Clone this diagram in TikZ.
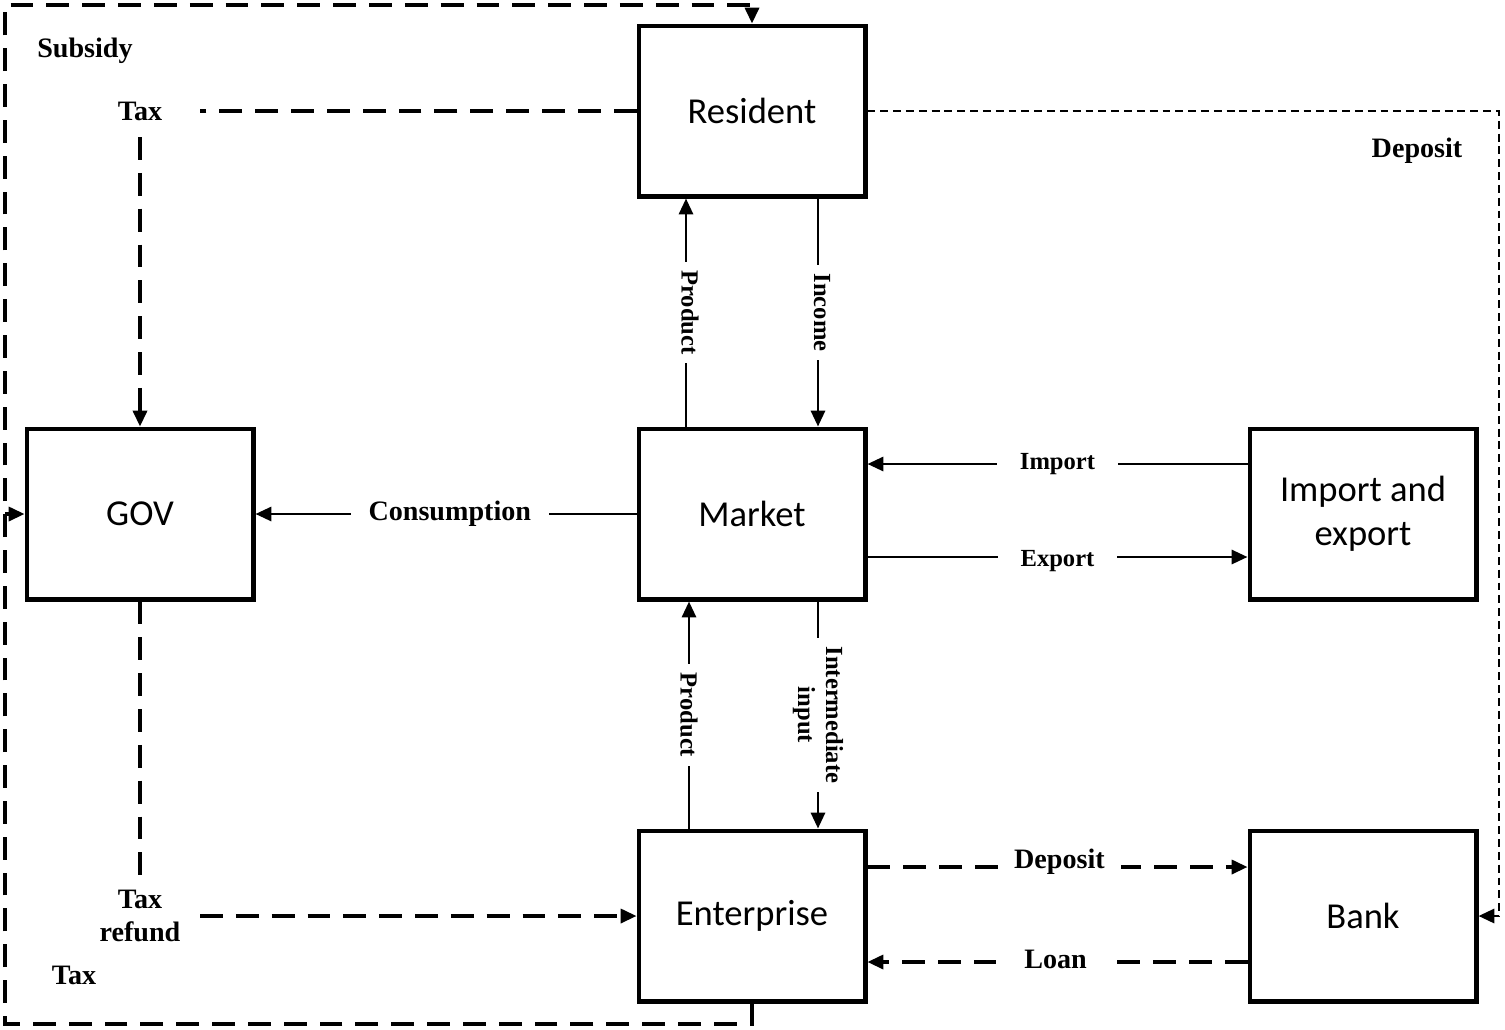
\documentclass[tikz,border=0pt]{standalone}
\usepackage{fontspec}
\setmainfont{Liberation Serif}
\newfontfamily\boxfont{Carlito}
\usetikzlibrary{arrows.meta}
\begin{document}
\begin{tikzpicture}[x=0.02cm,y=-0.02cm,
  box/.style={draw, line width=2.3pt, fill=white, minimum width=4.54cm, minimum height=3.42cm,
    align=center, font=\boxfont\fontsize{20.8}{25}\selectfont, inner sep=0pt},
  conn/.style={line width=1.5pt},
  dsh/.style={line width=1.8pt, dash pattern=on 13pt off 7.4pt},
  fine/.style={line width=1.6pt, dash pattern=on 4.5pt off 2.8pt},
  arr/.style={-{Triangle[length=9pt,width=8pt]}},
  biglab/.style={font=\bfseries\fontsize{16}{19}\selectfont, align=center},
  lab/.style={font=\bfseries\fontsize{16}{19}\selectfont, fill=white, inner xsep=6pt, inner ysep=2pt},
  smlab/.style={font=\bfseries\fontsize{14}{16}\selectfont, fill=white, inner sep=5pt, align=center},
  hlab/.style={font=\bfseries\fontsize{14}{16}\selectfont, fill=white, inner xsep=13pt, inner ysep=2pt}
]
\useasboundingbox (0,0) rectangle (1505,1029);

% boxes
\node[box] (res) at (752,111) {Resident};
\node[box] (gov) at (140,514) {GOV};
\node[box] (mkt) at (752,514) {Market};
\node[box] (ie)  at (1363,514) {Import and\\export};
\node[box] (ent) at (752,916) {Enterprise};
\node[box] (bank) at (1363,916) {Bank};

% free labels
\node[biglab] (subsidy) at (85,51) {Subsidy};
\node[biglab] (taxbot) at (74,975) {Tax};
\node[biglab] (taxtop) at (140,111) {Tax};
\node[biglab] (taxref) at (140,916) {Tax\\refund};
\node[biglab] (deptop) at (1417,151) {Deposit};

\coordinate (taxtopE) at (200,111);
\coordinate (taxtopS) at (140,137);
\coordinate (taxrefN) at (140,879);
\coordinate (taxrefE) at (200,916);
\coordinate (bl) at (5,1024);
\coordinate (tl) at (5,5);
\coordinate (lft) at (5,514);
\coordinate (tr) at (1499,111);

% market flows
\draw[conn,arr] (mkt.north -| 686,0) -- node[smlab, rotate=-90, pos=0.5, yshift=4*0.02cm] (prod1) {Product} (res.south -| 686,0);
\draw[conn,arr] (res.south -| 818,0) -- node[smlab, rotate=-90, pos=0.5, yshift=4*0.02cm] (inc) {Income} (mkt.north -| 818,0);
\draw[conn,arr] (ent.north -| 689,0) -- node[smlab, rotate=-90, pos=0.5] (prod2) {Product} (mkt.south -| 689,0);
\draw[conn,arr] (mkt.south -| 818,0) -- node[smlab, rotate=-90, pos=0.5] (inter) {Intermediate\\input} (ent.north -| 818,0);
\draw[conn,arr] (ie.west |- 0,464) -- node[hlab, pos=0.5] (imp) {Import} (mkt.east |- 0,464);
\draw[conn,arr] (mkt.east |- 0,557) -- node[hlab, pos=0.5, yshift=-4*0.02cm] (exp) {Export} (ie.west |- 0,557);
\draw[conn,arr] (mkt.west) -- node[lab, pos=0.49, inner xsep=10pt] (cons) {Consumption} (gov.east);

% bank flows
\draw[dsh,arr] (ent.east |- 0,867) -- node[lab, pos=0.505, yshift=5*0.02cm, inner xsep=9pt] (depb) {Deposit} (bank.west |- 0,867);
\draw[dsh,arr] (bank.west |- 0,962) -- node[lab, pos=0.505, yshift=3*0.02cm, inner xsep=16pt] (loan) {Loan} (ent.east |- 0,962);

% government flows
\draw[dsh] (res.west) -- (taxtopE);
\draw[dsh,arr] (taxtopS) -- (gov.north);
\draw[dsh] (gov.south) -- (taxrefN);
\draw[dsh,arr] (taxrefE) -- (ent.west);

% deposit from resident to bank
\draw[fine,arr] (res.east) -- (tr) |- (bank.east);

% outer loop
\draw[dsh,arr] (ent.south) |- (bl) -- (tl) -| (res.north);
\draw[dsh,arr] (lft) -- (gov.west);
\end{tikzpicture}
\end{document}
